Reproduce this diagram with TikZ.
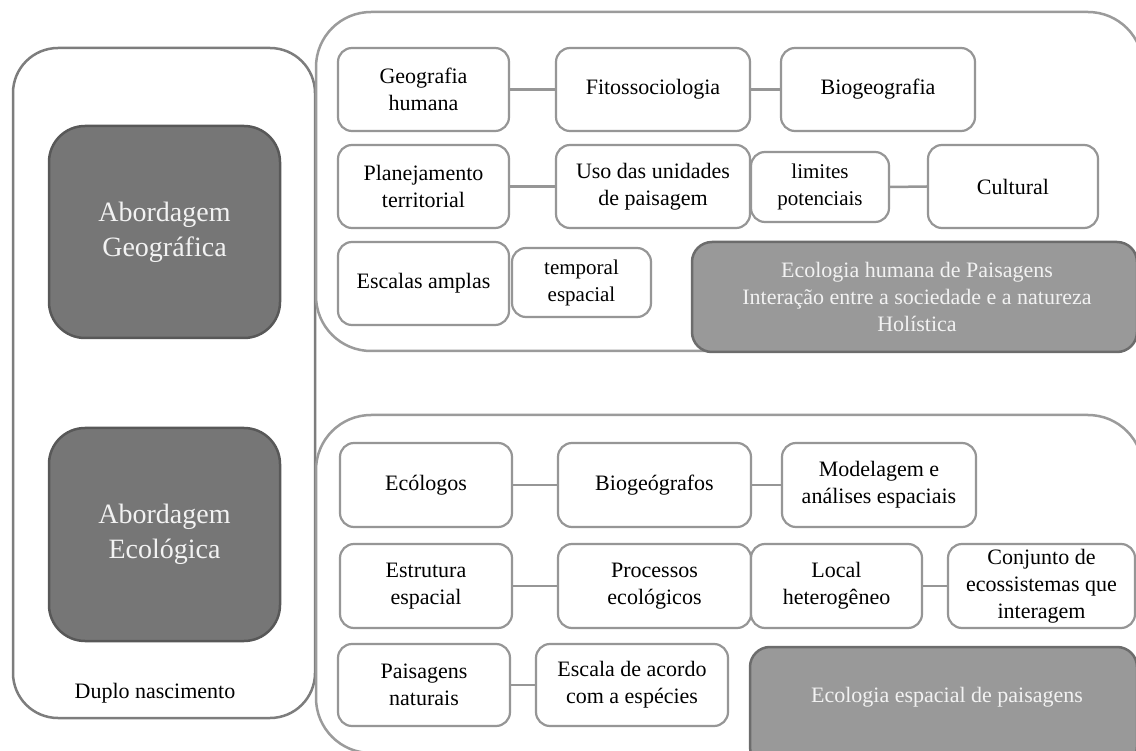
\documentclass[tikz,border=0pt]{standalone}
\usepackage{fontspec}
\setmainfont{Liberation Serif}
\definecolor{bordc}{RGB}{150,150,150}
\definecolor{outc}{RGB}{155,155,155}
\definecolor{leftc}{RGB}{125,125,125}
\definecolor{linkc}{RGB}{150,150,150}
\definecolor{darkf}{RGB}{118,118,118}
\definecolor{darkb}{RGB}{88,88,88}
\definecolor{midf}{RGB}{153,153,153}
\definecolor{midb}{RGB}{108,108,108}
\definecolor{lighttext}{RGB}{242,242,242}
\begin{document}
\begin{tikzpicture}[x=1pt,y=-1pt,
  box/.style={draw=bordc, line width=2.2pt, rounded corners=14pt, fill=white, align=center, inner sep=2pt, font=\fontsize{22}{27}\selectfont},
  sbox/.style={box, font=\fontsize{21}{27}\selectfont},
  darkbox/.style={draw=darkb, fill=darkf, line width=2.5pt, rounded corners=36pt, text=lighttext, align=center, font=\fontsize{28}{35}\selectfont},
  midbox/.style={draw=midb, fill=midf, line width=2.5pt, rounded corners=20pt},
  midtext/.style={text=lighttext, align=center, font=\fontsize{22}{27}\selectfont},
  outer/.style={draw=outc, line width=2.5pt, rounded corners=55pt},
  leftouter/.style={draw=leftc, line width=2.5pt, rounded corners=45pt},
  plain/.style={align=center, font=\fontsize{22}{27}\selectfont},
  link/.style={draw=linkc, line width=2.5pt}]
\useasboundingbox (0,0) rectangle (1136,751);
\clip (0,0) rectangle (1136,751);
\fill[white] (0,0) rectangle (1136,751);

% outer frames
\node[leftouter, minimum width=302pt, minimum height=670pt] (lb) at (164,383) {};
\node[outer, minimum width=827pt, minimum height=339pt] (tb) at (729.5,181.5) {};
\node[outer, minimum width=827pt, minimum height=338pt] (bb) at (729.5,584) {};

% left column
\node[darkbox, minimum width=231pt, minimum height=212pt] (ag) at (164.5,232) {Abordagem\\Geográfica};
\node[darkbox, minimum width=231pt, minimum height=213pt] (ae) at (164.5,534.5) {Abordagem\\Ecológica};
\node[plain] (dn) at (155,693) {Duplo nascimento};

% top group
\node[box, minimum width=171pt, minimum height=83pt] (gh) at (423.5,89.5) {Geografia\\humana};
\node[box, minimum width=194pt, minimum height=83pt] (fi) at (653,89.5) {Fitossociologia};
\node[box, minimum width=194pt, minimum height=83pt] (bg) at (878,89.5) {Biogeografia};
\node[box, minimum width=171pt, minimum height=83pt] (pt) at (423.5,186.5) {Planejamento\\territorial};
\node[box, minimum width=194pt, minimum height=83pt] (uu) at (653,186.5) {Uso das unidades\\de paisagem};
\node[sbox, minimum width=138pt, minimum height=70pt] (lp) at (820,187) {limites\\potenciais};
\node[box, minimum width=170pt, minimum height=83pt] (cu) at (1013,186.5) {Cultural};
\node[box, minimum width=171pt, minimum height=83pt] (ea) at (423.5,283.5) {Escalas amplas};
\node[sbox, minimum width=139pt, minimum height=69pt] (te) at (581.5,282.5) {temporal\\espacial};
\node[midbox, minimum width=445pt, minimum height=110pt] (eh) at (914.5,297) {};
\node[midtext] (eht) at (917,297) {Ecologia humana de Paisagens\\Interação entre a sociedade e a natureza\\Holística};

\draw[link] (gh.east) -- (fi.west);
\draw[link] (fi.east) -- (bg.west);
\draw[link] (pt.east) -- (uu.west);
\draw[link] (lp.east) -- (cu.west);

% bottom group
\node[box, minimum width=172pt, minimum height=84pt] (ec) at (426,485) {Ecólogos};
\node[box, minimum width=193pt, minimum height=84pt] (bi) at (654.5,485) {Biogeógrafos};
\node[box, minimum width=194pt, minimum height=84pt] (mo) at (879,485) {Modelagem e\\análises espaciais};
\node[box, minimum width=172pt, minimum height=84pt] (es) at (426,586) {Estrutura\\espacial};
\node[box, minimum width=193pt, minimum height=84pt] (pr) at (654.5,586) {Processos\\ecológicos};
\node[box, minimum width=171pt, minimum height=84pt] (lo) at (836.5,586) {Local\\heterogêneo};
\node[box, minimum width=187pt, minimum height=84pt] (co) at (1041.5,586) {Conjunto de\\ecossistemas que\\interagem};
\node[box, minimum width=172pt, minimum height=82pt] (pn) at (424,685) {Paisagens\\naturais};
\node[box, minimum width=192pt, minimum height=82pt] (sc) at (632,685) {Escala de acordo\\com a espécies};
\node[midbox, minimum width=387pt, minimum height=120pt] (ee) at (943.5,707) {};
\node[midtext] (eet) at (947,697) {Ecologia espacial de paisagens};

\draw[link] (ec.east) -- (bi.west);
\draw[link] (bi.east) -- (mo.west);
\draw[link] (es.east) -- (pr.west);
\draw[link] (lo.east) -- (co.west);
\draw[link] (pn.east) -- (sc.west);
\end{tikzpicture}
\end{document}
